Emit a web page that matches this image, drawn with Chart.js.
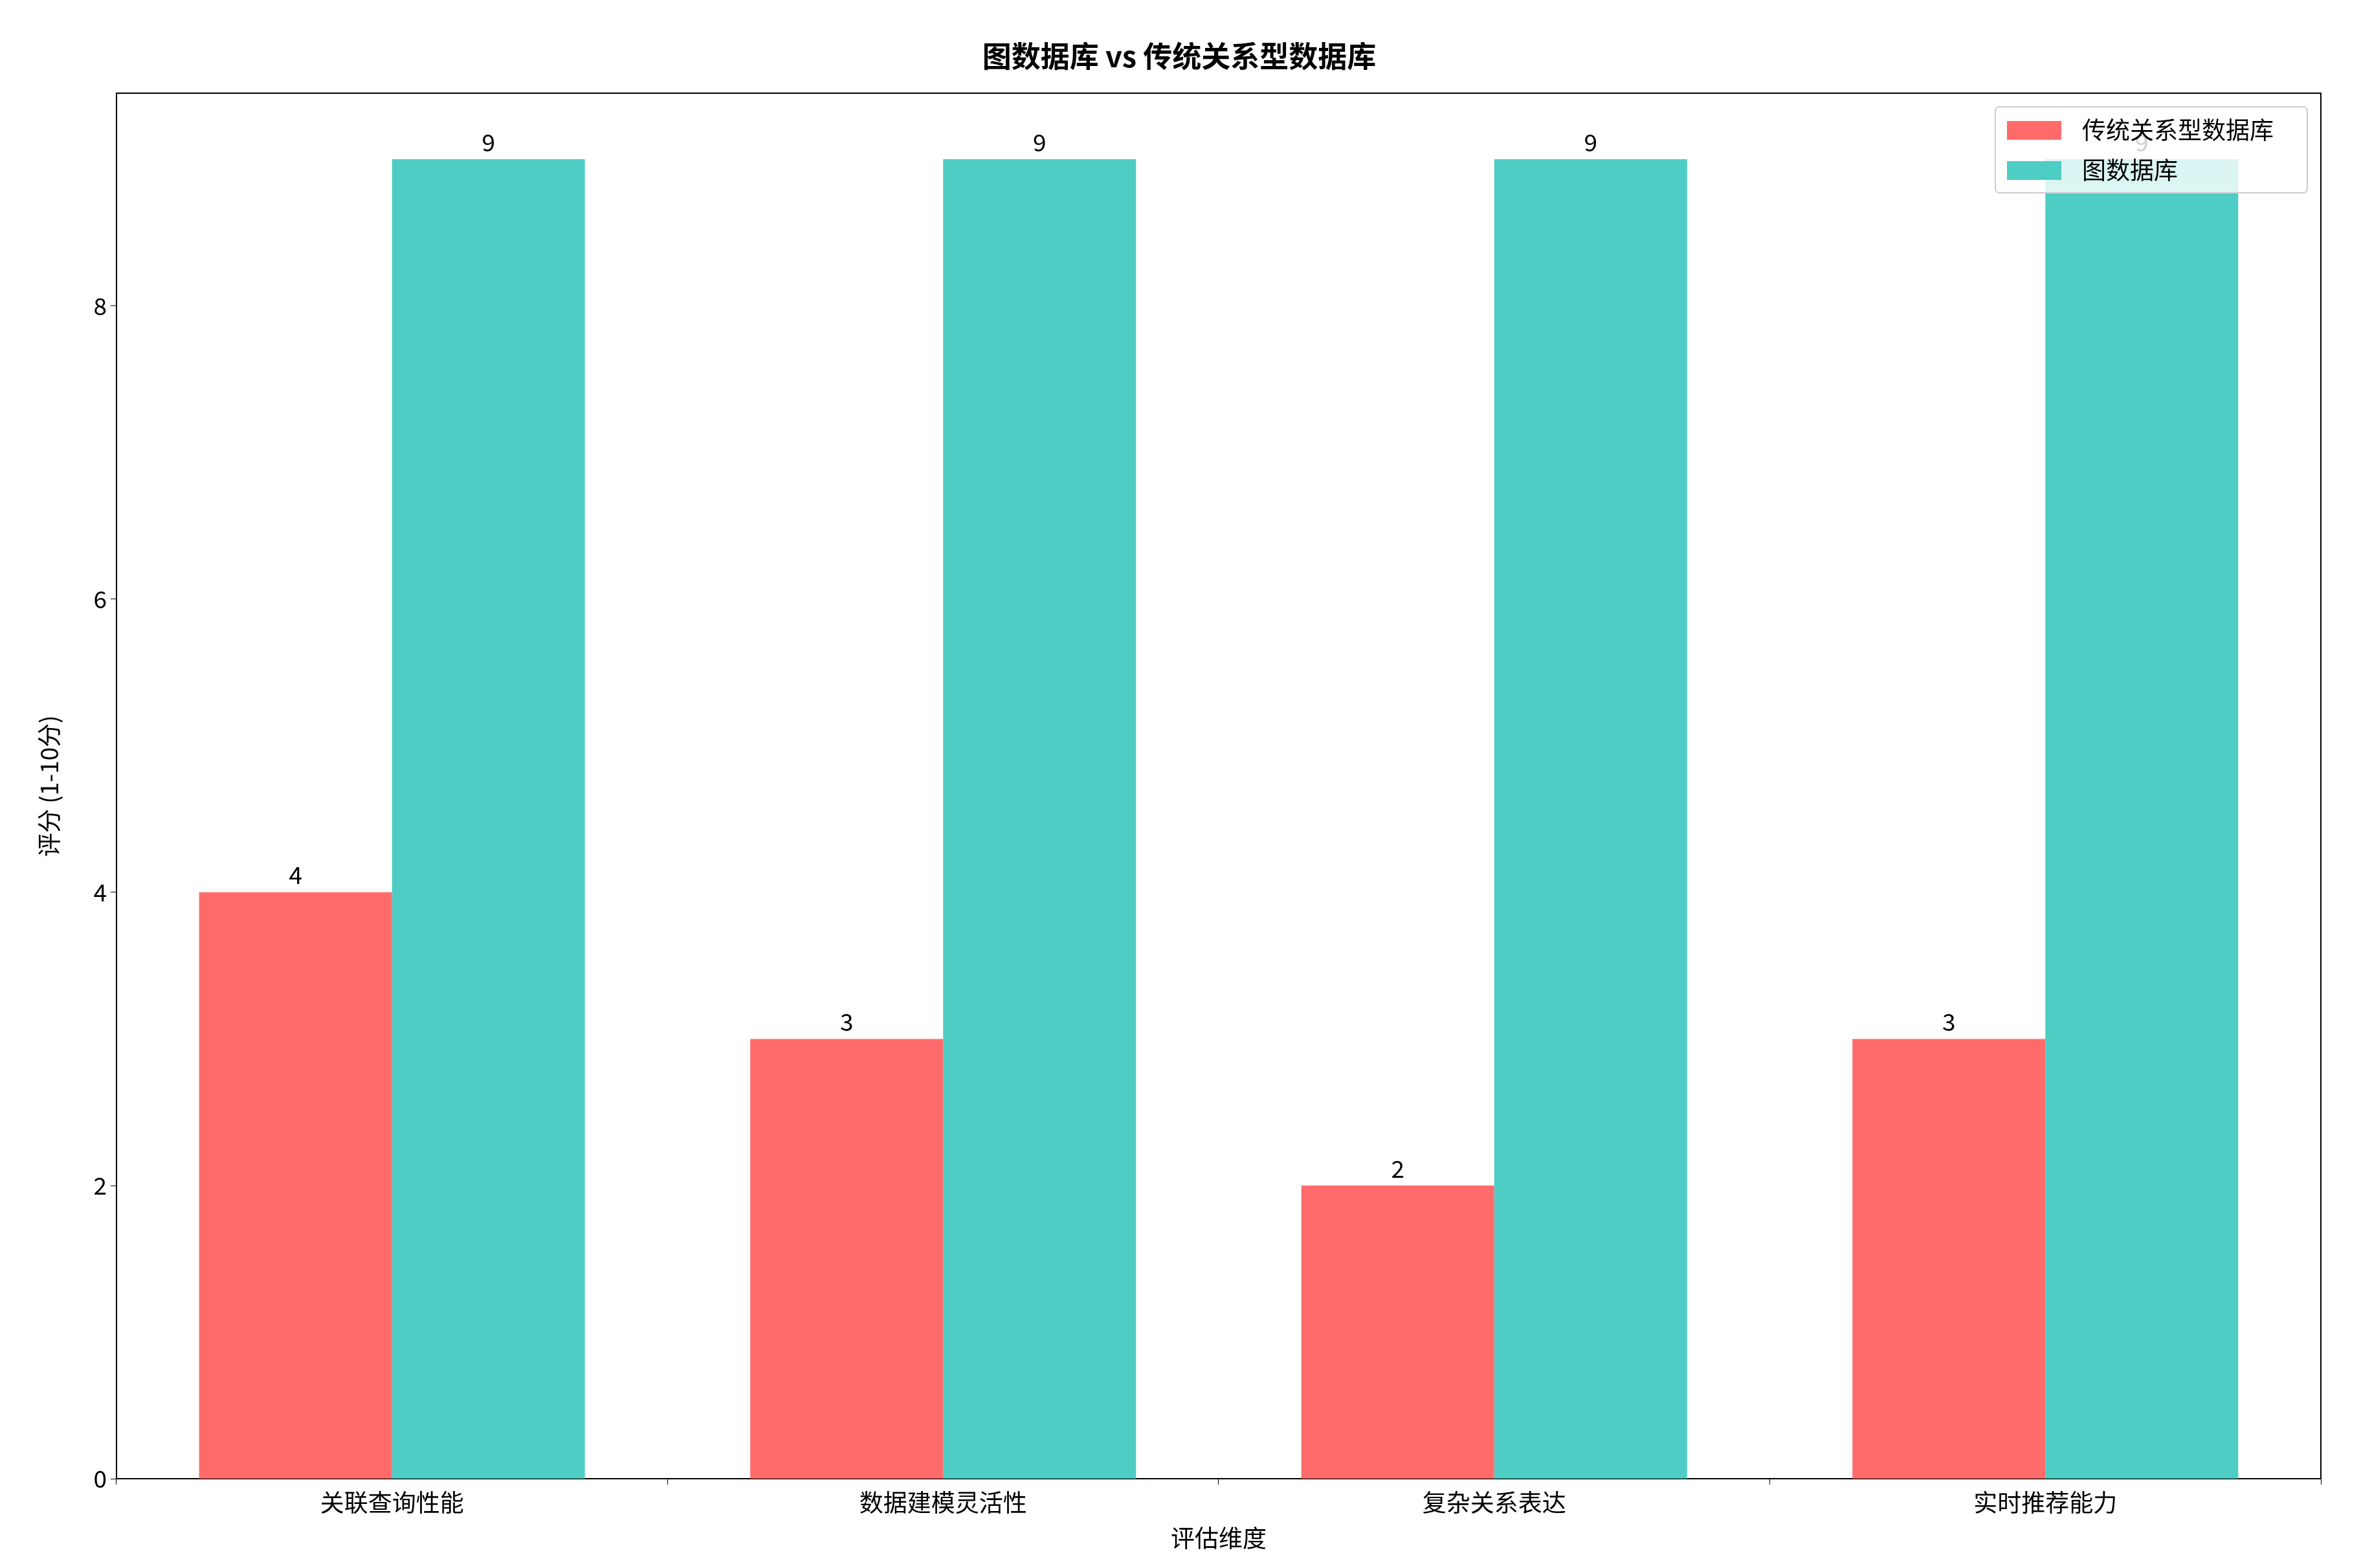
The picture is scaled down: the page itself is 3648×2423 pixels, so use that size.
<!DOCTYPE html>
<html>
<head>
<meta charset="utf-8">
<script src="https://cdn.jsdelivr.net/npm/chart.js@4.4.1/dist/chart.umd.min.js"></script>
<style>
  html, body { margin: 0; padding: 0; background: #fff; }
  #wrap { width: 3648px; height: 2423px; }
</style>
</head>
<body>
<div id="wrap"><canvas id="c"></canvas></div>
<script>
const categories = ['关联查询性能', '数据建模灵活性', '复杂关系表达', '实时推荐能力'];
const relationalScores = [4, 3, 2, 3];
const graphScores = [9, 9, 9, 9];
const yTicks = [0, 2, 4, 6, 8];

const FONT = '"Noto Sans CJK SC", "Noto Sans", sans-serif';

// value labels above each bar
const valueLabels = {
  id: 'valueLabels',
  afterDatasetsDraw(chart) {
    const ctx = chart.ctx;
    ctx.save();
    ctx.font = '37px ' + FONT;
    ctx.fillStyle = '#000';
    ctx.textAlign = 'center';
    ctx.textBaseline = 'bottom';
    chart.data.datasets.forEach((ds, i) => {
      chart.getDatasetMeta(i).data.forEach((bar, j) => {
        ctx.fillText(ds.data[j], bar.x, bar.y - 8);
      });
    });
    ctx.restore();
  }
};

// matplotlib-style legend inside the plot, upper right
const insideLegend = {
  id: 'insideLegend',
  afterDraw(chart) {
    const ctx = chart.ctx;
    const area = chart.chartArea;
    const w = 482, h = 133;
    const x = area.right - 21 - w, y = area.top + 21;
    ctx.save();
    ctx.fillStyle = 'rgba(255,255,255,0.8)';
    ctx.strokeStyle = '#cccccc';
    ctx.lineWidth = 2;
    ctx.beginPath();
    ctx.roundRect(x, y, w, h, 6);
    ctx.fill();
    ctx.stroke();
    ctx.font = '37px ' + FONT;
    ctx.textBaseline = 'middle';
    chart.data.datasets.forEach((ds, i) => {
      const cy = y + 36 + i * 62;
      ctx.fillStyle = ds.backgroundColor;
      ctx.fillRect(x + 18, cy - 14, 84, 29);
      ctx.fillStyle = '#000';
      ctx.fillText(ds.label, x + 134, cy);
    });
    ctx.restore();
  }
};

new Chart(document.getElementById('c'), {
  type: 'bar',
  data: {
    labels: categories,
    datasets: [
      { label: '传统关系型数据库', data: relationalScores, backgroundColor: '#FF6B6B' },
      { label: '图数据库', data: graphScores, backgroundColor: '#4ECDC4' }
    ]
  },
  options: {
    responsive: true,
    maintainAspectRatio: false,
    animation: false,
    devicePixelRatio: 1,
    categoryPercentage: 0.7,
    barPercentage: 1.0,
    layout: { padding: { left: 50, right: 54, top: 10, bottom: 20 } },
    plugins: {
      legend: { display: false },
      tooltip: { enabled: false },
      title: {
        display: true,
        text: '图数据库 vs 传统关系型数据库',
        color: '#000',
        font: { family: FONT, size: 45 },
        padding: { top: 50, bottom: 22 }
      }
    },
    scales: {
      x: {
        grid: { display: true, drawOnChartArea: false, drawTicks: true, tickLength: 9, color: '#000' },
        border: { color: '#000', width: 2 },
        ticks: { color: '#000', font: { family: FONT, size: 37 }, padding: 6 },
        title: { display: true, text: '评估维度', color: '#000', font: { family: FONT, size: 37 }, padding: { top: 4 } }
      },
      y: {
        min: 0,
        max: 9.45,
        afterBuildTicks(axis) { axis.ticks = yTicks.map(v => ({ value: v })); },
        grid: { display: true, drawOnChartArea: false, drawTicks: true, tickLength: 9, color: '#000' },
        border: { color: '#000', width: 2 },
        ticks: { color: '#000', font: { family: FONT, size: 37 }, padding: 6 },
        title: { display: true, text: '评分 (1-10分)', color: '#000', font: { family: FONT, size: 37 }, padding: { bottom: 40 } }
      },
      top: { position: 'top', display: true, grid: { display: false }, ticks: { display: false }, border: { color: '#000', width: 2 } },
      right: { position: 'right', display: true, grid: { display: false }, ticks: { display: false }, border: { color: '#000', width: 2 } }
    }
  },
  plugins: [valueLabels, insideLegend]
});
</script>
</body>
</html>
